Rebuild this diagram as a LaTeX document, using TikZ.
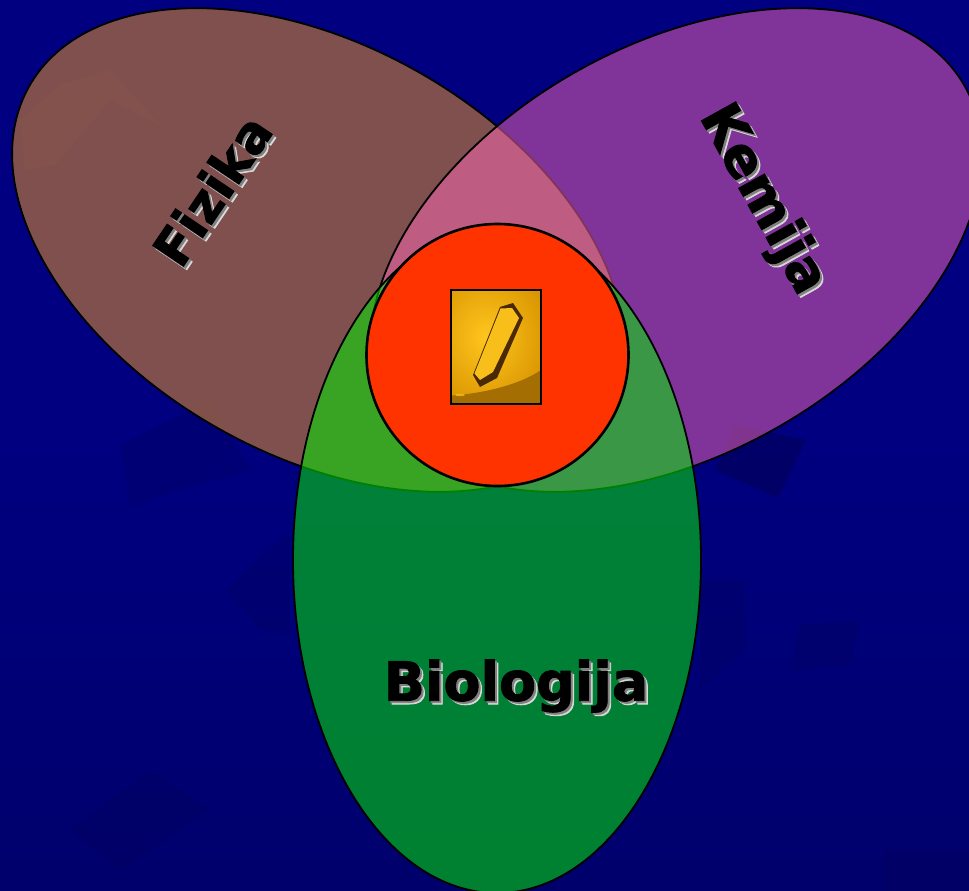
\documentclass[tikz,border=0pt]{standalone}
\usepackage{fontspec}
\setmainfont{DejaVu Sans}[BoldFont={DejaVu Sans Bold},BoldFeatures={FakeBold=1.6}]
\usetikzlibrary{calc}
\definecolor{navybg}{HTML}{000080}
\definecolor{navylow}{HTML}{00006C}
\definecolor{navydark}{HTML}{000058}
\definecolor{fizikafill}{HTML}{FFA020}
\definecolor{kemijafill}{HTML}{FF68B4}
\definecolor{biofill}{HTML}{00EA00}
\definecolor{corefill}{HTML}{FF3300}
\definecolor{picdark}{HTML}{4A2A06}
\definecolor{picface}{HTML}{F8BE1A}
\definecolor{picband}{HTML}{A46E02}
\definecolor{picglow}{HTML}{FFC61E}
\definecolor{picedge}{HTML}{D89400}
\tikzset{
  setshape/.style={draw=black,line width=1.8pt},
  patch/.style={fill=navydark,draw=none,opacity=.25},
  labeltext/.style={font=\fontsize{#1}{60}\selectfont\bfseries,inner sep=0pt},
}
\newcommand{\shadowlabel}[5]{%
  \node[labeltext=#5,text=white!85!black,rotate=#3] at ($(#1,#2)+(3.4,3.4)$) {#4};
  \node[labeltext=#5,text=black!50,rotate=#3] at ($(#1,#2)+(2,2)$) {#4};
  \node[labeltext=#5,text=black,rotate=#3] (lab#4) at (#1,#2) {#4};
}
\begin{document}
\begin{tikzpicture}[x=1pt,y=-1pt]
\useasboundingbox (0,0) rectangle (969,891);
\shade[top color=navybg,bottom color=navylow,middle color=navybg] (0,0) rectangle (969,891);
% faint background patches
\fill[patch,opacity=.6] (735,425) -- (806,440) -- (778,498) -- (715,470) -- cycle;
\fill[patch] (120,445) -- (210,400) -- (250,470) -- (130,505) -- cycle;
\fill[patch] (225,590) -- (290,530) -- (290,635) -- (260,630) -- cycle;
\fill[patch] (70,830) -- (150,770) -- (210,810) -- (120,870) -- cycle;
\fill[patch] (700,580) -- (745,580) -- (745,650) -- (700,690) -- cycle;
\fill[patch] (800,625) -- (860,620) -- (850,665) -- (790,670) -- cycle;
\fill[patch] (885,850) -- (969,850) -- (969,891) -- (885,891) -- cycle;
\fill[fizikafill,opacity=.03] (20,120) -- (60,85) -- (110,70) -- (160,125) -- (110,100) -- (55,165) -- (25,170) -- cycle;
% sets
\draw[setshape,fill=fizikafill,fill opacity=.5] (318,250) ellipse [x radius=332,y radius=204.4,rotate=-29.6];
\draw[setshape,fill=kemijafill,fill opacity=.5] (676,250) ellipse [x radius=332,y radius=204.4,rotate=29.6];
\draw[setshape,fill=biofill,fill opacity=.55] (497,560) ellipse [x radius=204,y radius=333];
% centre
\node[circle,draw=black,line width=2.6pt,fill=corefill,minimum size=262pt,inner sep=0pt] (core) at (497.5,355) {};
% crystal picture
\node[minimum width=89pt,minimum height=113pt,inner sep=0pt] (pic) at (496,347) {};
\begin{scope}
\clip (pic.south west) rectangle (pic.north east);
\shade[inner color=picglow,outer color=picedge] (421,260) rectangle (551,414);
\fill[picband] (451,395.5) .. controls (480,394) and (520,385) .. (541,370) -- (541,404) -- (451,404) -- cycle;
\fill[picglow,opacity=.7] (460,395) ellipse [x radius=5,y radius=1.2];
\fill[picdark] (500,307) -- (513,303) -- (523,318) -- (497,378) -- (480,387) -- (473,375) -- cycle;
\fill[picface] (500.5,308.5) -- (512,308) -- (519,318) -- (493,372) -- (480,380) -- (474.5,373.5) -- cycle;
\end{scope}
\draw[black,line width=2pt] (pic.south west) rectangle (pic.north east);
% labels
\shadowlabel{212}{190}{56}{Fizika}{51}
\shadowlabel{762}{200}{-61}{Kemija}{54}
\shadowlabel{516}{686}{0}{Biologija}{54}
\end{tikzpicture}
\end{document}
